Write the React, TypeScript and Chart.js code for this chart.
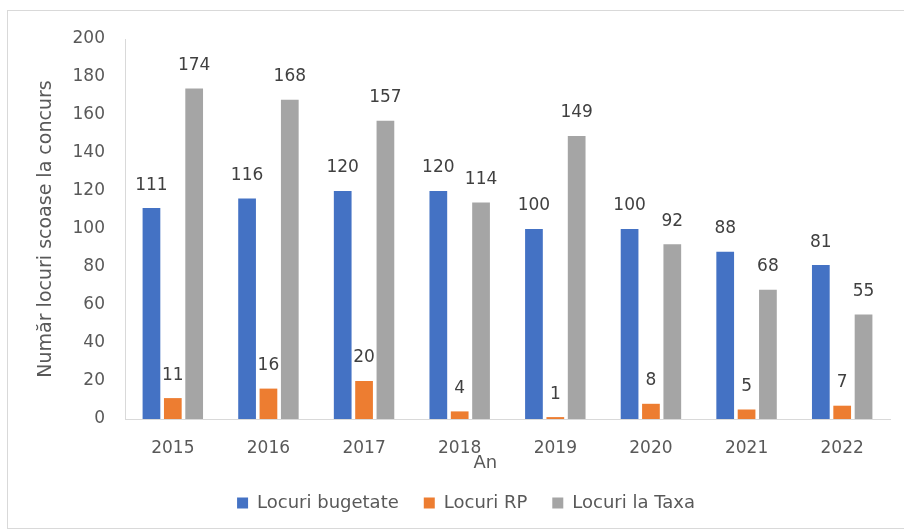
import React, { useEffect, useRef } from "react";
import { Chart, registerables } from "chart.js";

Chart.register(...registerables);

const years = ["2015", "2016", "2017", "2018", "2019", "2020", "2021", "2022"];
const bugetate = [111, 116, 120, 120, 100, 100, 88, 81];
const rp = [11, 16, 20, 4, 1, 8, 5, 7];
const taxa = [174, 168, 157, 114, 149, 92, 68, 55];
const seriesNames = ["Locuri bugetate", "Locuri RP", "Locuri la Taxa"];
const yTitle = "Număr locuri scoase la concurs";
const xTitle = "An";

const FONT = "'DejaVu Sans', sans-serif";

const framePlugin = {
  id: "frame",
  beforeDraw(chart: any) {
    const ctx = chart.ctx;
    ctx.save();
    ctx.fillStyle = "#ffffff";
    ctx.fillRect(0, 0, chart.width, chart.height);
    ctx.strokeStyle = "#d9d9d9";
    ctx.lineWidth = 1;
    ctx.strokeRect(7.5, 10.5, chart.width + 10, 518);
    ctx.restore();
  },
};

const labelsPlugin = {
  id: "valueLabels",
  afterDatasetsDraw(chart: any) {
    const ctx = chart.ctx;
    ctx.save();
    ctx.font = `17px ${FONT}`;
    ctx.fillStyle = "#404040";
    ctx.textAlign = "center";
    ctx.textBaseline = "middle";
    chart.data.datasets.forEach((ds: any, i: number) => {
      const meta = chart.getDatasetMeta(i);
      meta.data.forEach((bar: any, j: number) => {
        ctx.fillText(String(ds.data[j]), bar.x, bar.y - 23);
      });
    });
    // x axis title
    const a = chart.chartArea;
    ctx.font = `18px ${FONT}`;
    ctx.fillStyle = "#595959";
    ctx.fillText(xTitle, a.left + (a.right - a.left) * 0.471, a.bottom + 44);
    ctx.restore();
  },
};

export default function App() {
  const ref = useRef<HTMLCanvasElement>(null);
  useEffect(() => {
    if (!ref.current) return;
    const chart = new Chart(ref.current, {
      type: "bar",
      data: {
        labels: years,
        datasets: [
          { label: seriesNames[0], data: bugetate, backgroundColor: "#4472C4" },
          { label: seriesNames[1], data: rp, backgroundColor: "#ED7D31" },
          { label: seriesNames[2], data: taxa, backgroundColor: "#A5A5A5" },
        ],
      },
      plugins: [framePlugin, labelsPlugin],
      options: {
        animation: false,
        responsive: false,
        maintainAspectRatio: false,
        layout: { padding: { left: 28, right: 0, top: 39, bottom: 9 } },
        datasets: {
          bar: { categoryPercentage: 0.67, barPercentage: 0.83 },
        },
        plugins: {
          legend: {
            position: "bottom",
            labels: {
              font: { family: FONT, size: 18 },
              color: "#595959",
              boxWidth: 11,
              boxHeight: 11,
              padding: 25,
            },
          },
          tooltip: { enabled: false },
          title: { display: false },
        },
        scales: {
          x: {
            grid: { display: false, drawTicks: false },
            border: { display: true, color: "#d9d9d9" },
            ticks: { font: { family: FONT, size: 17 }, color: "#595959", padding: 19 },
            afterFit: (s: any) => { s.height = 50; },
          },
          y: {
            min: 0,
            max: 200,
            grid: { display: false, drawTicks: false },
            border: { display: true, color: "#d9d9d9" },
            ticks: { stepSize: 20, font: { family: FONT, size: 17 }, color: "#595959", padding: 20 },
            title: {
              display: true,
              text: yTitle,
              font: { family: FONT, size: 19 },
              color: "#595959",
              padding: { top: 7, bottom: 0 },
            },
            afterFit: (s: any) => { s.width = 97; },
          },
          yR: {
            type: "linear",
            position: "right",
            display: true,
            grid: { display: false, drawTicks: false },
            border: { display: false },
            ticks: { display: false },
            afterFit: (s: any) => { s.width = 14; },
          },
        },
      } as any,
    });
    return () => chart.destroy();
  }, []);
  return (
    <div style={{ position: "fixed", left: 0, top: 0, width: 904, height: 531 }}>
      <canvas ref={ref} width={904} height={531} style={{ display: "block", width: 904, height: 531 }} />
    </div>
  );
}
